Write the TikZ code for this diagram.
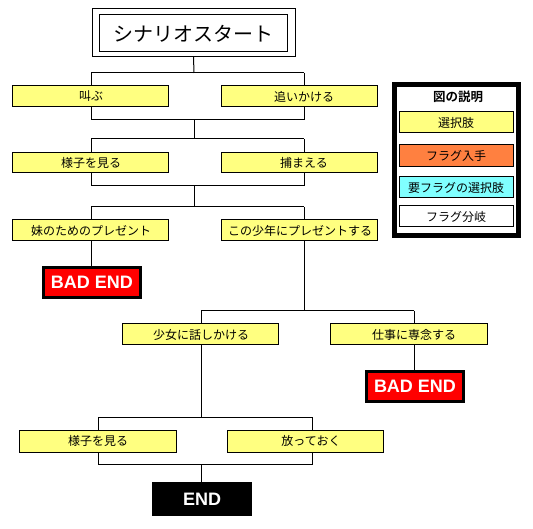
\documentclass[tikz,border=0pt]{standalone}
\usepackage{fontspec}
\newfontfamily\jp{Noto Sans CJK JP}
\newfontfamily\jpb{Noto Sans CJK JP Bold}
\newfontfamily\arialb{Liberation Sans Bold}
\definecolor{cyel}{HTML}{FFFF80}
\definecolor{corg}{HTML}{FF8040}
\definecolor{ccya}{HTML}{80FFFF}
\definecolor{cred}{HTML}{FF0000}
\tikzset{
  conn/.style={draw=black,line width=1pt},
  boxbase/.style={draw=black,line width=1pt,inner sep=0pt,outer sep=0pt},
  choicebox/.style={boxbase,fill=cyel},
  ltext/.style={font=\jp\fontsize{12}{12}\selectfont,inner sep=0pt,anchor=center},
  badend/.style={draw=black,line width=3pt,fill=cred,inner sep=0pt,outer sep=0pt,minimum width=97pt,minimum height=30pt,font=\arialb\fontsize{18}{18}\selectfont,text=white},
  endbox/.style={fill=black,inner sep=0pt,outer sep=0pt,minimum width=100pt,minimum height=34pt,font=\arialb\fontsize{18}{18}\selectfont,text=white},
}
\newcommand{\chbox}[7]{% name, x1, x2, y1, y2, textx, text
  \node[choicebox,fill=#7,minimum width={#3-#2},minimum height={#5-#4}] (#1) at ({(#2+#3)/2},{(#4+#5)/2}) {};
}
\begin{document}
\begin{tikzpicture}[x=1pt,y=-1pt]
\useasboundingbox (0,0) rectangle (533,529);
% title
\node[boxbase,minimum width=203pt,minimum height=48pt] (titleout) at (193.5,33) {};
\node[boxbase,minimum width=188pt,minimum height=37pt,font=\jp\fontsize{20}{20}\selectfont] (title) at (193,33.5) {シナリオスタート};
% row 1
\chbox{a1}{12}{168}{86}{107}{}{cyel}
\chbox{b1}{221}{377}{86}{107}{}{cyel}
\node[ltext] (ta1) at (91,96.5) {叫ぶ};
\node[ltext] (tb1) at (304,96.5) {追いかける};
% row 2
\chbox{a2}{12}{168}{153}{173}{}{cyel}
\chbox{b2}{221}{377}{153}{173}{}{cyel}
\node[ltext] (ta2) at (91,163) {様子を見る};
\node[ltext] (tb2) at (304,163) {捕まえる};
% row 3
\chbox{a3}{12}{168}{220}{241}{}{cyel}
\chbox{b3}{221}{377}{220}{241}{}{cyel}
\node[ltext] (ta3) at (91,230.5) {妹のためのプレゼント};
\node[ltext] (tb3) at (300,230.5) {この少年にプレゼントする};
\node[badend] (bad1) at (92,282.5) {BAD END};
% row 4
\chbox{a4}{122}{278}{324}{345}{}{cyel}
\chbox{b4}{330}{487}{324}{345}{}{cyel}
\node[ltext] (ta4) at (201,334.5) {少女に話しかける};
\node[ltext] (tb4) at (414,334.5) {仕事に専念する};
\node[badend] (bad2) at (415,386.5) {BAD END};
% row 5
\chbox{a5}{19}{176}{430}{452}{}{cyel}
\chbox{b5}{227}{383}{430}{452}{}{cyel}
\node[ltext] (ta5) at (98,441) {様子を見る};
\node[ltext] (tb5) at (311,441) {放っておく};
\node[endbox] (end) at (202,499) {END};
% junction coordinates
\coordinate (j1) at (194,73);
\coordinate (j1l) at (91,73); \coordinate (j1r) at (304,73);
\coordinate (k1l) at (91,120); \coordinate (k1r) at (304,120); \coordinate (k1) at (194,120);
\coordinate (j2) at (194,139);
\coordinate (j2l) at (91,139); \coordinate (j2r) at (304,139);
\coordinate (k2l) at (91,186); \coordinate (k2r) at (304,186); \coordinate (k2) at (194,186);
\coordinate (j3) at (194,207);
\coordinate (j3l) at (91,207); \coordinate (j3r) at (304,207);
\coordinate (j4) at (304,311);
\coordinate (j4l) at (201,311); \coordinate (j4r) at (414,311);
\coordinate (j5) at (201,417);
\coordinate (j5l) at (98,417); \coordinate (j5r) at (312,417);
\coordinate (k5l) at (98,464); \coordinate (k5r) at (312,464); \coordinate (k5) at (201,464);
% connectors
\draw[conn] (titleout.south) -- (j1);
\draw[conn] (j1l) -- (j1r);
\draw[conn] (j1l) -- (j1l |- a1.north);
\draw[conn] (j1r) -- (j1r |- b1.north);
\draw[conn] (k1l |- a1.south) -- (k1l) -- (k1r) -- (k1r |- b1.south);
\draw[conn] (k1) -- (j2);
\draw[conn] (j2l) -- (j2r);
\draw[conn] (j2l) -- (j2l |- a2.north);
\draw[conn] (j2r) -- (j2r |- b2.north);
\draw[conn] (k2l |- a2.south) -- (k2l) -- (k2r) -- (k2r |- b2.south);
\draw[conn] (k2) -- (j3);
\draw[conn] (j3l) -- (j3r);
\draw[conn] (j3l) -- (j3l |- a3.north);
\draw[conn] (j3r) -- (j3r |- b3.north);
\draw[conn] (j3l |- a3.south) -- (j3l |- bad1.north);
\draw[conn] (j3r |- b3.south) -- (j4);
\draw[conn] (j4l) -- (j4r);
\draw[conn] (j4l) -- (j4l |- a4.north);
\draw[conn] (j4r) -- (j4r |- b4.north);
\draw[conn] (j4r |- b4.south) -- (j4r |- bad2.north);
\draw[conn] (j4l |- a4.south) -- (j5);
\draw[conn] (j5l) -- (j5r);
\draw[conn] (j5l) -- (j5l |- a5.north);
\draw[conn] (j5r) -- (j5r |- b5.north);
\draw[conn] (k5l |- a5.south) -- (k5l) -- (k5r) -- (k5r |- b5.south);
\draw[conn] (k5) -- (k5 |- end.north);
% legend
\node[draw=black,line width=5pt,fill=white,inner sep=0pt,minimum width=124pt,minimum height=151pt] (legend) at (456.5,160) {};
\node[font=\jpb\fontsize{12.5}{12.5}\selectfont,inner sep=0pt] (legtitle) at (458,97) {図の説明};
\chbox{l1}{399}{513}{112}{133}{}{cyel}
\chbox{l2}{399}{513}{145}{167}{}{corg}
\chbox{l3}{399}{513}{177}{198}{}{ccya}
\chbox{l4}{399}{513}{206}{227}{}{white}
\node[ltext] (tl1) at (456,122.5) {選択肢};
\node[ltext] (tl2) at (456,156) {フラグ入手};
\node[ltext] (tl3) at (456,187.5) {要フラグの選択肢};
\node[ltext] (tl4) at (456,216.5) {フラグ分岐};
\end{tikzpicture}
\end{document}
